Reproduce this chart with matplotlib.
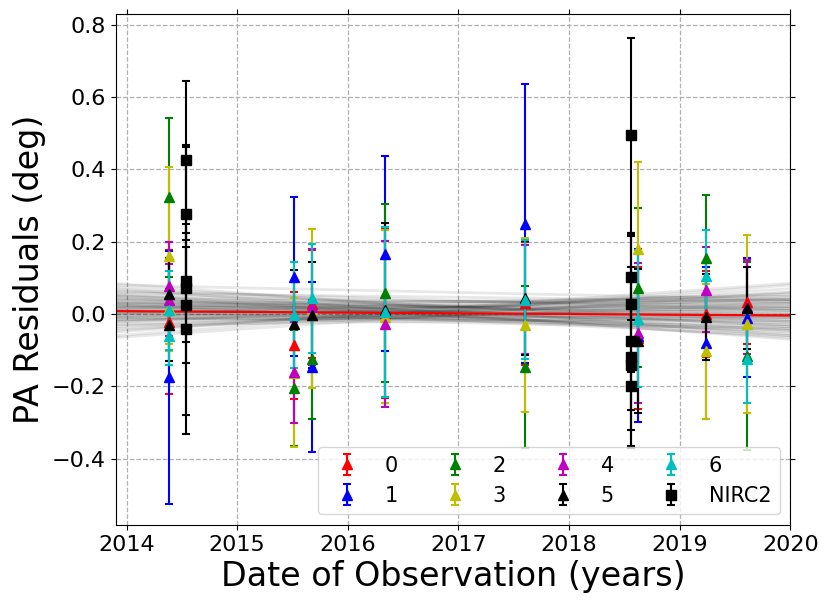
import matplotlib
matplotlib.use("Agg")
import matplotlib.pyplot as plt
import numpy as np

# ---- data ----
star_labels = ["0", "1", "2", "3", "4", "5", "6"]
star_colors = ["r", "b", "g", "y", "m", "k", "c"]

star0_dates = [2014.38, 2015.51, 2015.68, 2016.34, 2017.60, 2018.62, 2019.24, 2019.61]
star0_vals = [-0.022, -0.087, 0.028, 0.002, 0.030, -0.067, 0.000, 0.034]
star0_errs = [0.200, 0.148, 0.150, 0.234, 0.170, 0.196, 0.120, 0.117]

star1_dates = [2014.38, 2015.51, 2015.68, 2016.34, 2017.60, 2018.62, 2019.24, 2019.61]
star1_vals = [-0.175, 0.103, -0.147, 0.167, 0.250, -0.060, -0.081, -0.010]
star1_errs = [0.350, 0.220, 0.235, 0.270, 0.385, 0.240, 0.210, 0.165]

star2_dates = [2014.38, 2015.51, 2015.68, 2016.34, 2017.60, 2018.62, 2019.24, 2019.61]
star2_vals = [0.323, -0.205, -0.125, 0.059, -0.147, 0.073, 0.154, -0.117]
star2_errs = [0.220, 0.160, 0.165, 0.246, 0.224, 0.220, 0.174, 0.260]

star3_dates = [2014.38, 2014.38, 2015.51, 2015.68, 2016.34, 2017.60, 2018.62, 2019.24, 2019.61]
star3_vals = [0.161, 0.017, -0.162, 0.014, -0.007, -0.030, 0.180, -0.103, -0.027]
star3_errs = [0.245, 0.120, 0.205, 0.220, 0.240, 0.240, 0.240, 0.187, 0.246]

star4_dates = [2014.38, 2014.38, 2015.51, 2015.68, 2016.34, 2017.60, 2018.62, 2019.24, 2019.61]
star4_vals = [0.078, 0.039, -0.161, 0.020, -0.028, 0.040, -0.052, 0.067, 0.020]
star4_errs = [0.120, 0.100, 0.140, 0.160, 0.230, 0.150, 0.194, 0.117, 0.130]

star5_dates = [2014.38, 2014.38, 2015.51, 2015.68, 2016.34, 2017.60, 2018.62, 2019.24, 2019.61]
star5_vals = [0.056, -0.030, -0.027, -0.003, 0.011, 0.045, -0.075, -0.008, 0.016]
star5_errs = [0.100, 0.100, 0.148, 0.147, 0.240, 0.158, 0.200, 0.118, 0.113]

star6_dates = [2014.38, 2014.38, 2015.51, 2015.68, 2016.34, 2017.60, 2018.62, 2019.24, 2019.61]
star6_vals = [0.010, -0.060, -0.003, 0.043, 0.006, 0.040, -0.013, 0.106, -0.124]
star6_errs = [0.110, 0.080, 0.147, 0.150, 0.236, 0.165, 0.190, 0.127, 0.123]

nirc2_dates = [2014.54, 2014.54, 2014.54, 2014.54, 2014.54, 2014.54,
               2018.56, 2018.56, 2018.56, 2018.56, 2018.56, 2018.56, 2018.56]
nirc2_vals = [0.425, 0.277, 0.092, 0.073, 0.025, -0.042,
              0.494, 0.103, 0.029, -0.075, -0.120, -0.140, -0.200]
nirc2_errs = [0.220, 0.190, 0.370, 0.150, 0.160, 0.290,
              0.270, 0.120, 0.190, 0.290, 0.250, 0.180, 0.065]

# model trend lines: value at left edge and right edge
line_x = [2013.9, 2020.0]
model_left = [0.075, 0.062, 0.055, 0.048, 0.042, 0.038, 0.035, 0.030, 0.028, 0.025,
              0.022, 0.020, 0.018, 0.015, 0.012, 0.010, 0.008, 0.005, 0.003, 0.000,
              -0.003, -0.006, -0.010, -0.014, -0.018, -0.022, -0.028, -0.035, -0.045, -0.060,
              0.085, 0.050, 0.040, 0.030, 0.020, 0.010, 0.000, -0.010, -0.020, -0.030,
              0.065, 0.045, 0.032, 0.016, 0.002, -0.008, -0.016, -0.040, 0.058, 0.026,
              0.070, -0.050, 0.080, -0.065, 0.052]
model_right = [-0.035, -0.020, -0.045, -0.010, -0.030, 0.000, -0.050, -0.015, 0.010, -0.025,
               0.005, -0.040, 0.020, -0.005, -0.020, 0.030, 0.000, -0.030, 0.015, 0.040,
               -0.010, 0.025, 0.050, 0.010, 0.035, 0.060, 0.020, 0.045, 0.070, 0.080,
               -0.060, 0.020, 0.030, 0.040, 0.050, -0.045, -0.035, -0.020, -0.005, -0.010,
               0.010, -0.055, 0.015, 0.040, 0.055, -0.040, 0.000, 0.030, 0.035, -0.060,
               -0.070, 0.085, 0.040, 0.060, -0.065]
best_fit = [0.008, -0.004]

x_ticks = [2014, 2015, 2016, 2017, 2018, 2019, 2020]
y_ticks = [-0.4, -0.2, 0.0, 0.2, 0.4, 0.6, 0.8]

# ---- plot ----
fig = plt.figure(figsize=(8.31, 6.06), dpi=100)
ax = fig.add_axes([0.139, 0.134, 0.812, 0.843])

for l, r in zip(model_left, model_right):
    ax.plot(line_x, [l, r], color="k", alpha=0.09, lw=2, zorder=1)
ax.plot(line_x, best_fit, color="r", lw=1.6, zorder=1.5)

stars = [
    (star0_dates, star0_vals, star0_errs),
    (star1_dates, star1_vals, star1_errs),
    (star2_dates, star2_vals, star2_errs),
    (star3_dates, star3_vals, star3_errs),
    (star4_dates, star4_vals, star4_errs),
    (star5_dates, star5_vals, star5_errs),
    (star6_dates, star6_vals, star6_errs),
]
for (d, v, e), lab, c in zip(stars, star_labels, star_colors):
    ax.errorbar(d, v, yerr=e, fmt="^", color=c, ms=7, capsize=3,
                elinewidth=1.5, capthick=1.5, label=lab, zorder=2)

ax.errorbar(nirc2_dates, nirc2_vals, yerr=nirc2_errs, fmt="s", color="k",
            ms=6.5, capsize=3, elinewidth=1.5, capthick=1.5, label="NIRC2", zorder=2)

ax.set_xlim(2013.9, 2020.0)
ax.set_ylim(-0.583, 0.830)
ax.set_xticks(x_ticks)
ax.set_xticklabels([str(t) for t in x_ticks])
ax.set_yticks(y_ticks)
ax.set_yticklabels([f"{t:.1f}".replace("-", "\u2212") for t in y_ticks])
ax.tick_params(axis="both", labelsize=16, top=True, right=True, direction="out")
ax.grid(True, ls="--", color="#b0b0b0", lw=0.9)
ax.set_axisbelow(True)

ax.set_xlabel("Date of Observation (years)", fontsize=24)
ax.set_ylabel("PA Residuals (deg)", fontsize=24)

ax.legend(loc="lower right", ncol=4, fontsize=15, columnspacing=1.75)

fig.savefig("out.png", dpi=100)
